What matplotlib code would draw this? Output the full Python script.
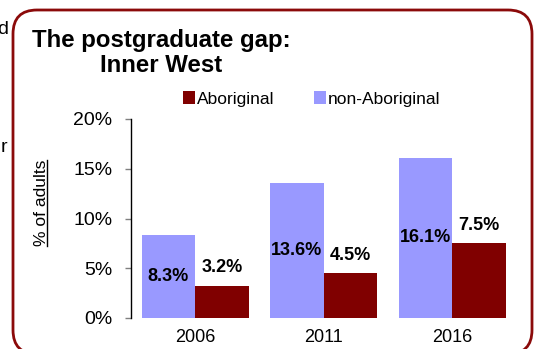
import matplotlib
matplotlib.use("Agg")
import matplotlib.pyplot as plt
from matplotlib.patches import FancyBboxPatch
from matplotlib.lines import Line2D

plt.rcParams['font.family'] = ['Liberation Sans', 'DejaVu Sans']

# Data: share of adults holding a postgraduate qualification (%)
years = ["2006", "2011", "2016"]
aboriginal = [3.2, 4.5, 7.5]
non_aboriginal = [8.3, 13.6, 16.1]
y_ticks = [0, 5, 10, 15, 20]

BLUE = "#9999FF"
RED = "#800000"
FRAME = "#8B0A0A"

W, H = 539, 349
DPI = 100
fig = plt.figure(figsize=(W / DPI, H / DPI), dpi=DPI)

# Rounded frame around the chart (coordinates in inches, bottom runs off the page)
frame = FancyBboxPatch((13 / DPI, -5 / DPI), (532 - 13) / DPI, (339 + 5) / DPI,
                       boxstyle="round,pad=0,rounding_size=0.24",
                       transform=fig.dpi_scale_trans, fill=False,
                       edgecolor=FRAME, linewidth=2.0)
fig.patches.append(frame)

ax = fig.add_axes([131 / W, 31 / H, 385.5 / W, 199 / H])
x = range(len(years))
w = 0.4167
b_non = ax.bar([i - w / 2 for i in x], non_aboriginal, width=w, color=BLUE,
               label="non-Aboriginal")
b_abo = ax.bar([i + w / 2 for i in x], aboriginal, width=w, color=RED,
               label="Aboriginal")

ax.bar_label(b_non, labels=[f"{v:.1f}%" for v in non_aboriginal],
             label_type="center", fontsize=13, fontweight="bold")
ax.bar_label(b_abo, labels=[f"{v:.1f}%" for v in aboriginal],
             padding=7, fontsize=13, fontweight="bold")

ax.set_xlim(-0.5, 2.5)
ax.set_ylim(0, 20)
ax.set_yticks(y_ticks)
ax.set_yticklabels([f"{t}%" for t in y_ticks], fontsize=14)
ax.set_xticks(list(x))
ax.set_xticklabels(years, fontsize=13)
ax.tick_params(axis="x", length=0, pad=8)
ax.tick_params(axis="y", length=4.5, color="#808080", width=1, pad=9)
for s in ("top", "right", "bottom"):
    ax.spines[s].set_visible(False)
ax.spines["left"].set_color("black")
ax.spines["left"].set_linewidth(1.0)

# Legend: Aboriginal first
ax.legend(handles=[b_abo, b_non], labels=["Aboriginal", "non-Aboriginal"],
          loc="center left", bbox_to_anchor=(183 / W, 1 - 99 / H),
          bbox_transform=fig.transFigure, ncol=2, frameon=False,
          fontsize=12.5, handlelength=0.7, handleheight=0.7,
          handletextpad=0.1, columnspacing=2.3, borderpad=0,
          borderaxespad=0)

# Title
fig.text(161 / W, 1 - 29 / H, "The postgraduate gap:\nInner West",
         ha="center", va="top", fontsize=17.3, fontweight="bold",
         linespacing=1.1)

# Underlined y-axis label
ylab = fig.text(41 / W, 1 - 203 / H, "% of adults", rotation=90,
                ha="center", va="center", fontsize=12.5)

# Fragments of surrounding text at the left edge
fig.text(8 / W, 1 - 29 / H, "d", ha="right", va="center", fontsize=14)
fig.text(7 / W, 1 - 147 / H, "r", ha="right", va="center", fontsize=14)

fig.canvas.draw()
bb = ylab.get_window_extent(fig.canvas.get_renderer())
ux = (bb.x1 - 1.5) / W
fig.add_artist(Line2D([ux, ux], [bb.y0 / H, bb.y1 / H],
                      transform=fig.transFigure, color="black", lw=1.0))

fig.savefig("out.png", dpi=DPI)
